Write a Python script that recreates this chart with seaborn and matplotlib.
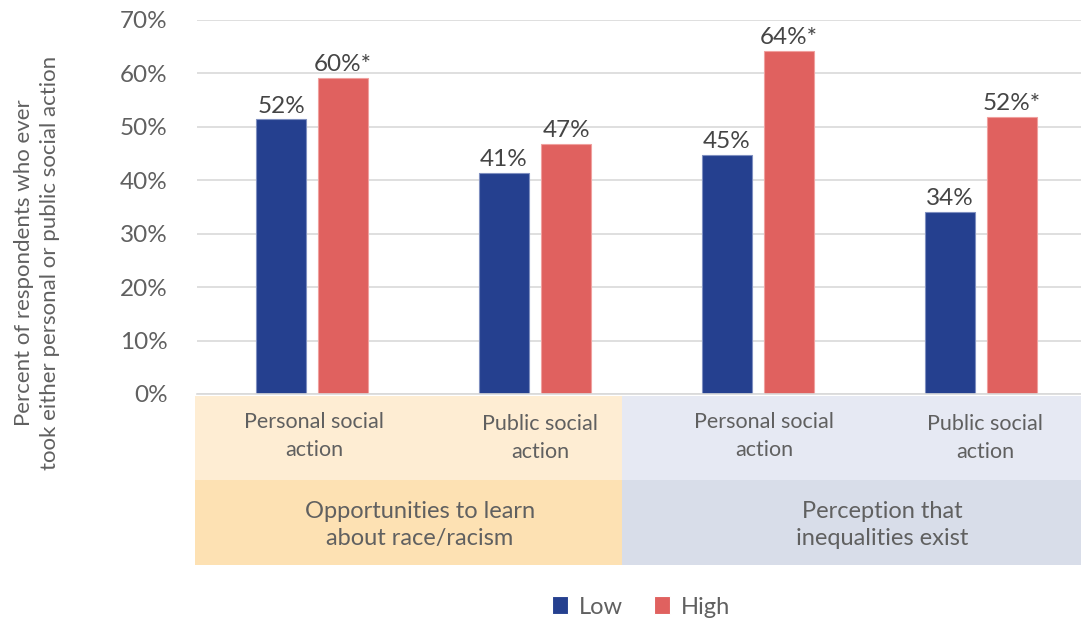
import matplotlib
matplotlib.use("Agg")
import matplotlib.pyplot as plt
from matplotlib.patches import Rectangle
import seaborn as sns
import pandas as pd

# ---- data ----
categories = ["Personal social\naction", "Public social\naction",
              "Personal social\naction", "Public social\naction"]
cat_keys = ["c1", "c2", "c3", "c4"]
low_values = [51.4, 41.4, 44.7, 34.1]
high_values = [59.2, 46.8, 64.2, 51.9]
low_labels = ["52%", "41%", "45%", "34%"]
high_labels = ["60%*", "47%", "64%*", "52%*"]
groups = ["Opportunities to learn\nabout race/racism", "Perception that\ninequalities exist"]
series = ["Low", "High"]
yticks = [0, 10, 20, 30, 40, 50, 60, 70]
ylabel = "Percent of respondents who ever\ntook either personal or public social action"

df = pd.DataFrame({
    "cat": cat_keys * 2,
    "series": [series[0]] * 4 + [series[1]] * 4,
    "value": low_values + high_values,
})

sns.set_style("white")
plt.rcParams["font.family"] = ["Lato", "DejaVu Sans"]

W, H = 1081, 621
fig = plt.figure(figsize=(W / 100, H / 100), dpi=100)
ax_l, ax_r, ax_b, ax_t = 197, 1081, 394, 20
ax = fig.add_axes([ax_l / W, (H - ax_b) / H, (ax_r - ax_l) / W, (ax_b - ax_t) / H])

navy = "#25408f"
red = "#e0615f"
sns.barplot(data=df, x="cat", y="value", hue="series", order=cat_keys,
            hue_order=series, palette=[navy, red], width=0.556, gap=0.19,
            ax=ax, legend=True, linewidth=0.8, saturation=1)
for cont, ec in zip(ax.containers, ["#7f8fc0", "#f0a09e"]):
    for p in cont:
        p.set_edgecolor(ec)

ax.set_ylim(0, 70)
ax.set_xlim(-0.516, 3.448)
ax.set_yticks(yticks)
ax.set_yticklabels([f"{t}%" for t in yticks], fontsize=17.5, color="#606060")
ax.tick_params(axis="y", length=0, pad=21)
ax.set_xticks([])
ax.set_xlabel("")
ax.set_ylabel("")
ax.yaxis.grid(True, color="#d9d9d9", linewidth=1.2)
ax.set_axisbelow(True)
for s in ["top", "right", "left"]:
    ax.spines[s].set_visible(False)
ax.spines["bottom"].set_color("#d9d9d9")
ax.spines["bottom"].set_linewidth(1.2)

# data labels
for cont, labs in zip(ax.containers, [low_labels, high_labels]):
    ax.bar_label(cont, labels=labs, padding=2, fontsize=17.5, color="#454545")

# bottom panels
tr = ax.get_xaxis_transform()
unit = 223.0
def dx(px):
    return (px - 312) / unit
def fy(py):
    return (ax_b - py) / (ax_b - ax_t)

row_top, row_mid, row_bot = 396, 480, 565
panels = [
    (195, 622, "#feedd3", "#fde1b3"),
    (622, 1081, "#e6e9f3", "#d8dde9"),
]
for x0, x1, c1, c2 in panels:
    ax.add_patch(Rectangle((dx(x0), fy(row_mid)), dx(x1) - dx(x0), fy(row_top) - fy(row_mid),
                           transform=tr, facecolor=c1, edgecolor="none", clip_on=False))
    ax.add_patch(Rectangle((dx(x0), fy(row_bot)), dx(x1) - dx(x0), fy(row_mid) - fy(row_bot),
                           transform=tr, facecolor=c2, edgecolor="none", clip_on=False))

label_x = [dx(314), dx(540), dx(764), dx(985)]
label_y = [436, 438, 436, 438]
for lab, lx, ly in zip(categories, label_x, label_y):
    ax.text(lx, fy(ly), lab, transform=tr, ha="center", va="center",
            fontsize=15.5, color="#606060", linespacing=1.5)

for lab, gx in zip(groups, [dx(420), dx(882)]):
    ax.text(gx, fy(525), lab, transform=tr, ha="center", va="center",
            fontsize=17, color="#606060", linespacing=1.38)

fig.text(37 / W, (H - 263) / H, ylabel, rotation=90, ha="center", va="center",
         fontsize=16, color="#606060", linespacing=1.35)

# legend
handles, lbls = ax.get_legend_handles_labels()
ax.legend_.remove()
fig.legend(handles, lbls, loc="center", bbox_to_anchor=(641 / W, (H - 607) / H),
           ncol=2, frameon=False, fontsize=17, handlelength=0.7, handleheight=0.8,
           handletextpad=0.45, columnspacing=1.3, labelcolor="#606060")

fig.savefig("out.png", dpi=100)
